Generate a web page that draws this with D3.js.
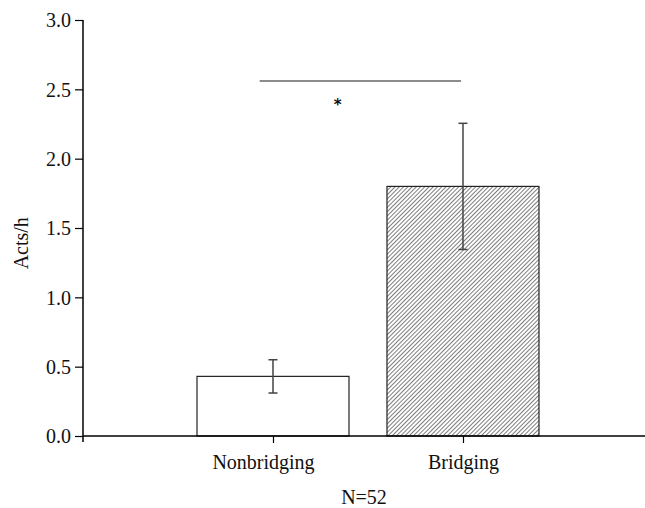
<!DOCTYPE html>
<html>
<head>
<meta charset="utf-8">
<script src="https://cdn.jsdelivr.net/npm/d3@7"></script>
<style>
  body { margin: 0; background: #fff; }
  text { font-family: "Liberation Serif", "Times New Roman", serif; fill: #111; }
</style>
</head>
<body>
<div id="chart"></div>
<script>
// data
var categories = ["Nonbridging", "Bridging"];
var positions = [1, 2];
var means = [0.43, 1.80];
var errors = [0.12, 0.455];
var yTicks = [0, 0.5, 1.0, 1.5, 2.0, 2.5, 3.0];
var sigLine = {from: 0.93, to: 1.99, y: 2.56, label: "*", labelX: 1.34, labelY: 2.35};

var W = 645, H = 508;
var margin = {top: 20, right: 0, bottom: 72, left: 83};

var svg = d3.select("#chart").append("svg")
  .attr("width", W).attr("height", H);

var x = d3.scaleLinear().domain([0, 2.958]).range([margin.left, W - margin.right]);
var y = d3.scaleLinear().domain([0, 3]).range([H - margin.bottom, margin.top]);

// hatch pattern for second bar
var defs = svg.append("defs");
var pat = defs.append("pattern")
  .attr("id", "hatch")
  .attr("patternUnits", "userSpaceOnUse")
  .attr("width", 3).attr("height", 3)
  .attr("patternTransform", "rotate(45)");
pat.append("line")
  .attr("x1", 0.5).attr("y1", 0).attr("x2", 0.5).attr("y2", 3)
  .attr("stroke", "#6e6e6e").attr("stroke-width", 0.9);

var barW = x(0.8) - x(0);

// bars
svg.selectAll("rect.bar")
  .data(means)
  .enter().append("rect")
  .attr("class", "bar")
  .attr("x", function(d, i) { return x(positions[i]) - barW / 2; })
  .attr("y", function(d) { return y(d); })
  .attr("width", barW)
  .attr("height", function(d) { return y(0) - y(d); })
  .attr("fill", function(d, i) { return i == 1 ? "url(#hatch)" : "#fff"; })
  .attr("stroke", "#222")
  .attr("stroke-width", 1.2);

// error bars
var eb = svg.append("g").attr("stroke", "#444").attr("stroke-width", 1.5);
means.forEach(function(m, i) {
  var cx = x(positions[i]);
  eb.append("line").attr("x1", cx).attr("x2", cx)
    .attr("y1", y(m + errors[i])).attr("y2", y(m - errors[i]));
  eb.append("line").attr("x1", cx - 4.5).attr("x2", cx + 4.5)
    .attr("y1", y(m + errors[i])).attr("y2", y(m + errors[i]));
  eb.append("line").attr("x1", cx - 4.5).attr("x2", cx + 4.5)
    .attr("y1", y(m - errors[i])).attr("y2", y(m - errors[i]));
});

// y axis
var yAxis = svg.append("g")
  .attr("transform", "translate(" + margin.left + ",0)")
  .call(d3.axisLeft(y).tickValues(yTicks).tickFormat(d3.format(".1f")).tickSize(8).tickPadding(4));
yAxis.select(".domain").attr("d", "M0," + y(3) + "V" + (y(0) + 6)).attr("stroke-width", 1.5);
yAxis.selectAll("line").attr("stroke-width", 1.2);
yAxis.selectAll("text").style("font-size", "20px").attr("dy", "0.34em");

// x axis
var xAxis = svg.append("g")
  .attr("transform", "translate(0," + y(0) + ")")
  .call(d3.axisBottom(x).tickValues(positions).tickFormat(function(d, i) { return categories[i]; }).tickSize(7).tickPadding(12));
xAxis.select(".domain").attr("d", "M" + margin.left + ",0H" + W).attr("stroke-width", 1.5);
xAxis.selectAll("line").attr("stroke-width", 1.2);
xAxis.selectAll("text").style("font-size", "20px")
  .attr("dx", function(d, i) { return i == 0 ? -10 : 0; });

// axis titles
svg.append("text")
  .attr("transform", "translate(28," + (y(1.39)) + ") rotate(-90)")
  .style("text-anchor", "middle")
  .style("font-size", "20px")
  .text("Acts/h");

svg.append("text")
  .attr("x", (margin.left + W) / 2)
  .attr("y", 504)
  .style("text-anchor", "middle")
  .style("font-size", "20px")
  .text("N=52");

// significance marker
svg.append("line")
  .attr("x1", x(sigLine.from)).attr("x2", x(sigLine.to))
  .attr("y1", y(sigLine.y)).attr("y2", y(sigLine.y))
  .attr("stroke", "#666").attr("stroke-width", 1.5);
svg.append("text")
  .attr("x", x(sigLine.labelX)).attr("y", y(sigLine.labelY))
  .style("text-anchor", "middle")
  .style("font-size", "15px")
  .style("font-weight", "bold")
  .style("font-family", "'DejaVu Sans', sans-serif")
  .text(sigLine.label);
</script>
</body>
</html>
